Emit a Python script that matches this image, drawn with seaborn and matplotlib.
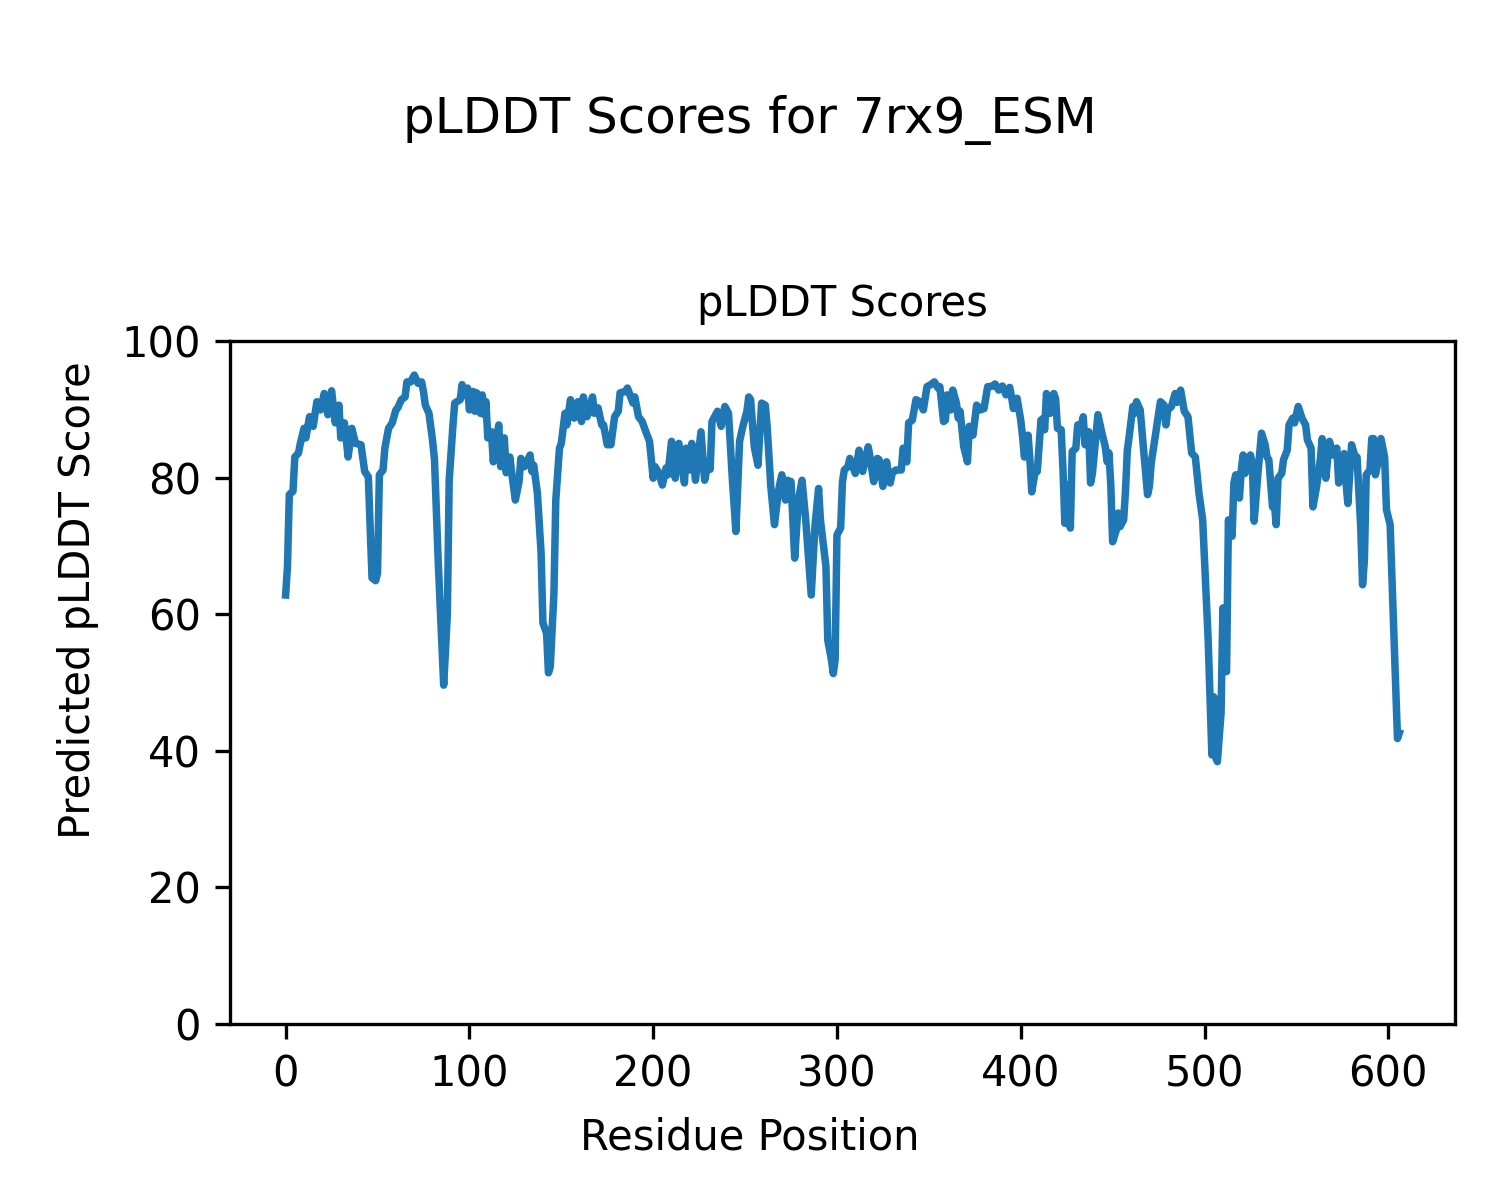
import matplotlib
matplotlib.use("Agg")
import matplotlib.pyplot as plt
import seaborn as sns

# pLDDT per residue (key points along the trace)
residue_pos = [
    0, 1, 2, 4, 5, 7, 8, 10, 11, 13, 15, 17, 19, 21, 23, 25, 27, 29, 30, 32,
    34, 36, 38, 41, 43, 45, 47, 49, 50, 51, 53, 54, 56, 58, 60, 61, 63, 65, 66, 68,
    70, 72, 74, 75, 76, 78, 80, 81, 83, 86, 88, 89, 91, 92, 95, 96, 97, 98, 99, 100,
    102, 103, 104, 106, 107, 108, 109, 110, 112, 113, 114, 116, 117, 119, 120, 122, 123, 125, 127, 128,
    130, 133, 134, 135, 137, 139, 140, 142, 143, 144, 146, 147, 149, 150, 152, 153, 155, 157, 159, 161,
    162, 164, 167, 168, 170, 172, 173, 175, 177, 179, 181, 182, 185, 186, 189, 190, 192, 194, 196, 198,
    200, 201, 203, 205, 207, 208, 210, 212, 214, 217, 218, 220, 221, 223, 226, 228, 230, 231, 232, 235,
    237, 239, 241, 243, 245, 247, 249, 251, 252, 253, 255, 257, 259, 261, 262, 264, 266, 268, 269, 270,
    272, 273, 275, 277, 279, 281, 283, 286, 288, 290, 291, 294, 295, 297, 298, 299, 300, 302, 303, 304,
    306, 307, 310, 312, 314, 317, 318, 320, 322, 323, 325, 327, 329, 330, 332, 335, 336, 338, 339, 341,
    343, 345, 347, 349, 351, 353, 355, 356, 358, 359, 360, 362, 363, 365, 366, 367, 369, 371, 372, 374,
    376, 378, 380, 382, 385, 386, 388, 390, 392, 394, 395, 396, 398, 400, 401, 402, 404, 405, 406, 408,
    409, 411, 412, 413, 414, 416, 418, 419, 420, 422, 423, 424, 425, 426, 427, 428, 430, 431, 433, 434,
    435, 437, 438, 439, 442, 444, 446, 447, 448, 449, 450, 452, 453, 454, 456, 457, 458, 459, 461, 462,
    463, 465, 467, 469, 470, 471, 473, 475, 476, 478, 479, 480, 482, 484, 485, 487, 489, 491, 493, 495,
    497, 499, 502, 504, 505, 506, 507, 509, 510, 511, 512, 513, 515, 516, 517, 519, 520, 521, 522, 525,
    526, 527, 529, 531, 533, 534, 535, 537, 538, 539, 540, 542, 543, 545, 546, 548, 549, 551, 553, 555,
    556, 558, 559, 561, 563, 564, 566, 568, 570, 572, 573, 575, 576, 577, 578, 580, 582, 583, 585, 586,
    587, 588, 590, 591, 592, 593, 595, 596, 598, 599, 601, 605, 606,
]
plddt = [
    62.8, 67.0, 77.5, 78.0, 83.0, 83.6, 85.0, 87.2, 85.8, 88.9, 87.5, 91.1, 89.9, 92.3, 89.2, 92.7, 88.0, 90.6, 85.8, 88.0,
    83.0, 87.2, 85.0, 84.8, 80.9, 80.1, 65.3, 64.9, 66.0, 80.4, 81.1, 84.3, 87.2, 88.0, 89.9, 90.2, 91.4, 91.8, 94.0, 94.0,
    95.0, 93.8, 94.0, 92.6, 90.6, 89.4, 85.3, 82.6, 67.9, 49.6, 60.0, 79.6, 87.5, 90.9, 91.4, 93.6, 92.0, 92.6, 93.1, 89.9,
    92.6, 89.7, 92.4, 89.4, 92.1, 89.2, 91.1, 85.8, 86.7, 82.3, 84.8, 87.7, 81.6, 85.8, 80.7, 83.0, 80.7, 76.7, 79.4, 82.8,
    81.6, 83.3, 80.9, 81.8, 77.7, 69.0, 58.7, 57.2, 51.4, 52.3, 63.1, 76.7, 84.3, 85.0, 89.4, 87.7, 91.4, 88.7, 91.1, 88.2,
    91.8, 88.9, 91.8, 89.4, 90.2, 87.7, 87.7, 84.8, 84.8, 88.9, 89.7, 92.4, 92.6, 93.1, 90.9, 91.8, 88.9, 88.2, 86.7, 85.3,
    79.9, 81.6, 80.7, 78.9, 81.4, 80.4, 85.3, 79.9, 85.0, 79.2, 84.3, 81.1, 85.0, 79.6, 86.7, 79.6, 82.3, 81.2, 88.2, 89.7,
    87.5, 90.4, 89.4, 80.1, 72.1, 85.3, 87.7, 89.7, 91.8, 91.4, 84.5, 81.8, 90.9, 90.6, 87.5, 78.7, 73.1, 77.7, 79.2, 80.4,
    76.7, 79.6, 79.4, 68.2, 76.7, 79.6, 73.8, 62.8, 72.8, 78.4, 73.8, 67.0, 56.2, 53.3, 51.3, 53.3, 71.6, 72.6, 79.4, 81.1,
    81.6, 82.8, 80.6, 84.0, 80.9, 84.5, 83.0, 79.4, 82.8, 82.6, 78.7, 82.3, 79.2, 80.6, 81.1, 81.1, 84.3, 82.3, 88.0, 88.4,
    91.4, 91.1, 89.9, 93.3, 93.6, 94.0, 93.1, 93.3, 88.2, 88.4, 92.1, 89.9, 92.8, 90.9, 88.7, 89.7, 84.5, 82.3, 87.5, 86.2,
    90.6, 89.9, 90.1, 93.3, 93.4, 93.7, 92.8, 93.4, 92.1, 93.2, 91.8, 90.1, 91.6, 88.4, 86.0, 83.0, 86.2, 82.6, 77.9, 81.1,
    80.9, 88.4, 88.6, 87.0, 92.3, 89.4, 92.3, 91.5, 87.2, 87.0, 81.1, 73.3, 78.9, 78.9, 72.6, 83.8, 84.3, 87.7, 87.7, 88.9,
    84.8, 86.7, 79.2, 80.6, 89.2, 86.7, 84.5, 82.3, 83.6, 78.9, 70.6, 72.3, 74.8, 72.8, 73.8, 78.0, 84.0, 86.0, 90.4, 89.4,
    91.1, 89.9, 83.6, 77.5, 78.7, 82.1, 85.7, 89.4, 91.1, 90.6, 87.7, 89.9, 90.4, 92.3, 91.0, 92.8, 89.7, 88.9, 83.6, 83.0,
    77.7, 73.8, 56.2, 39.4, 47.9, 39.1, 38.4, 45.5, 60.9, 51.6, 51.6, 73.8, 71.4, 79.2, 80.4, 77.0, 81.1, 83.3, 80.6, 83.3,
    82.1, 73.6, 80.4, 86.5, 84.8, 83.0, 82.6, 75.7, 76.2, 73.1, 79.9, 80.6, 82.6, 84.0, 87.7, 88.7, 88.0, 90.4, 88.7, 87.7,
    85.5, 84.3, 75.7, 78.7, 82.6, 85.7, 79.9, 85.3, 83.3, 84.3, 79.2, 83.0, 83.5, 79.2, 76.2, 84.8, 83.0, 83.0, 72.8, 64.3,
    67.9, 80.4, 81.1, 85.7, 85.7, 80.4, 83.0, 85.7, 83.0, 75.3, 73.1, 41.8, 42.6,
]

fig = plt.figure(figsize=(5, 4), dpi=300)
ax = fig.add_axes([0.1533, 0.1467, 0.8167, 0.5692])

sns.lineplot(x=residue_pos, y=plddt, color="#1f77b4", linewidth=1.8, ax=ax)

ax.set_ylim(0, 100)
ax.set_title("pLDDT Scores", fontsize=10)
ax.set_xlabel("")
ax.set_ylabel("")

# figure-level titles/labels, centred on the whole figure
fig.suptitle("pLDDT Scores for 7rx9_ESM", fontsize=12, y=0.9, va="center")
fig.supxlabel("Residue Position", fontsize=10, y=0.052, va="center")
fig.supylabel("Predicted pLDDT Score", fontsize=10, x=0.052, ha="center")

fig.savefig("out.png", dpi=300)
